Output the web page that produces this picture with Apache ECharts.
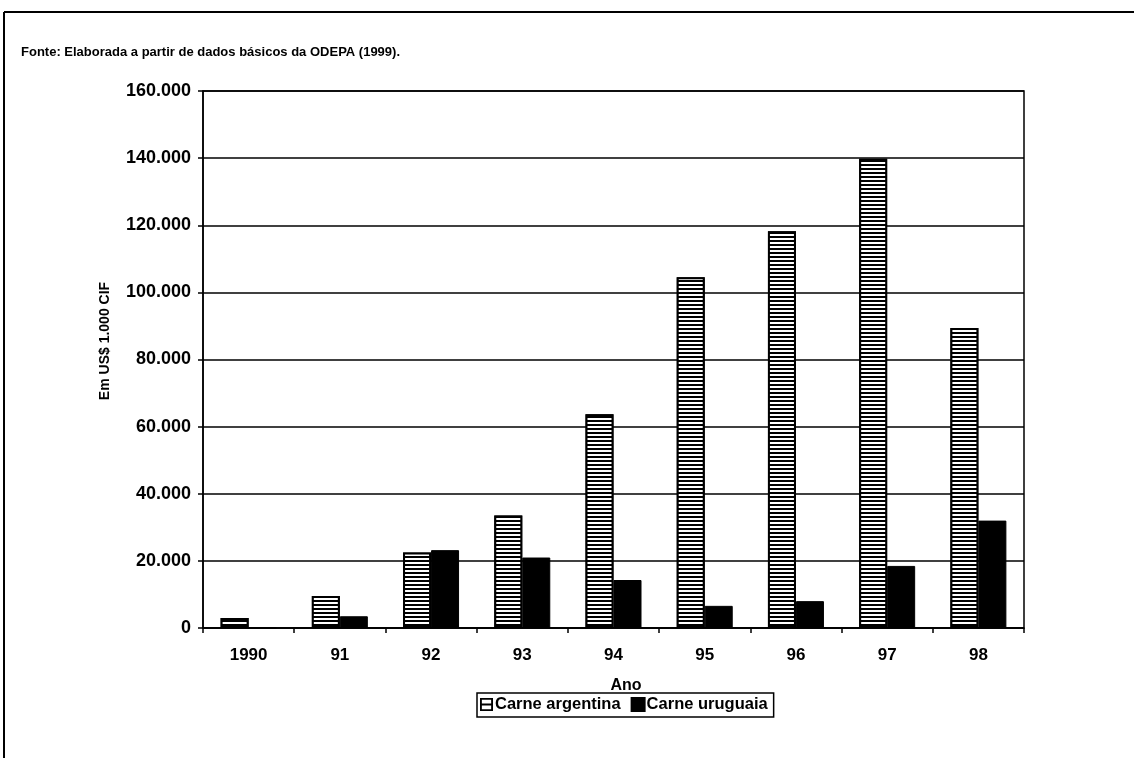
<!DOCTYPE html>
<html><head><meta charset="utf-8">
<script src="https://cdn.jsdelivr.net/npm/echarts@6/dist/echarts.min.js"></script>
<style>html,body{margin:0;padding:0;background:#fff}#c{width:1134px;height:758px}</style>
</head><body><div id="c"></div>
<script>
const categories = ['1990','91','92','93','94','95','96','97','98'];
const carneArgentina = [3000, 9500, 22500, 33500, 63700, 104500, 118200, 139800, 89400];
const carneUruguaia = [0, 3500, 23200, 21000, 14300, 6600, 8000, 18500, 32000];
const yTicks = {min: 0, max: 160000, interval: 20000};

const F = 'Liberation Sans, Arial, Helvetica, sans-serif';
const chart = echarts.init(document.getElementById('c'));
function fmt(v){ return v === 0 ? '0' : String(v).replace(/\B(?=(\d{3})+(?!\d))/g, '.'); }
chart.setOption({
  animation: false,
  backgroundColor: '#fff',
  textStyle: {fontFamily: F},
  title: {
    text: '{b|Fonte:} Elaborada a partir de dados básicos da ODEPA (1999).',
    left: 16, top: 41,
    textStyle: {fontFamily: F, fontSize: 13, fontWeight: 'bold', color: '#000',
      rich: {b: {fontFamily: F, fontSize: 13, fontWeight: 'bold', color: '#000'}}}
  },
  graphic: [
    {type: 'line', shape: {x1: 4, y1: 12, x2: 1134, y2: 12}, style: {stroke: '#000', lineWidth: 2}},
    {type: 'line', shape: {x1: 4, y1: 12, x2: 4, y2: 758}, style: {stroke: '#000', lineWidth: 2}},
    {type: 'text', x: 105, y: 341, rotation: Math.PI / 2,
      style: {text: 'Em US$ 1.000 CIF', fontFamily: F, fontSize: 14, fontWeight: 'bold', fill: '#000', align: 'center', verticalAlign: 'middle'}}
  ],
  legend: {
    top: 693, left: 477,
    itemWidth: 13, itemHeight: 13, itemGap: 10,
    borderColor: '#000', borderWidth: 1.5, padding: [3, 6, 4, 3],
    textStyle: {fontFamily: F, fontSize: 16.5, fontWeight: 'bold', color: '#000', padding: [0, 0, 0, -3]},
    data: [
      {name: 'Carne argentina', icon: 'path://M0,0H14V14H0Z M2,2V6H12V2Z M2,8V12H12V8Z', itemStyle: {color: '#000', borderWidth: 0, decal: 'none'}},
      {name: 'Carne uruguaia', icon: 'rect', itemStyle: {color: '#000'}}
    ]
  },
  grid: {left: 203, right: 110, top: 91, bottom: 130, show: true, borderColor: '#000', borderWidth: 1.5},
  xAxis: {
    type: 'category', data: categories,
    name: 'Ano', nameLocation: 'middle', nameGap: 50,
    nameTextStyle: {fontFamily: F, fontSize: 16, fontWeight: 'bold', color: '#000', padding: [0, 0, 0, 25]},
    axisLine: {lineStyle: {color: '#000', width: 1.5}},
    axisTick: {show: true, length: 5, lineStyle: {color: '#000', width: 1.5}},
    axisLabel: {fontFamily: F, fontSize: 17, fontWeight: 'bold', color: '#000', margin: 19}
  },
  yAxis: {
    type: 'value', min: yTicks.min, max: yTicks.max, interval: yTicks.interval,
    axisLine: {show: true, lineStyle: {color: '#000', width: 1.5}},
    axisTick: {show: true, length: 5, lineStyle: {color: '#000', width: 1.5}},
    splitLine: {lineStyle: {color: '#000', width: 1.5}},
    axisLabel: {fontFamily: F, fontSize: 18, fontWeight: 'bold', color: '#000', margin: 12, formatter: fmt}
  },
  series: [
    {
      name: 'Carne argentina', type: 'bar', data: carneArgentina,
      barWidth: 28, barGap: '0%',
      itemStyle: {color: '#fff', borderColor: '#000', borderWidth: 2,
        decal: {symbol: 'rect', color: '#000', backgroundColor: '#fff', dashArrayX: [1, 0], dashArrayY: [1.5, 2], rotation: 0, symbolSize: 1}}
    },
    {
      name: 'Carne uruguaia', type: 'bar', data: carneUruguaia,
      barWidth: 28,
      itemStyle: {color: '#000', borderColor: '#000', borderWidth: 1}
    }
  ]
});
</script></body></html>
